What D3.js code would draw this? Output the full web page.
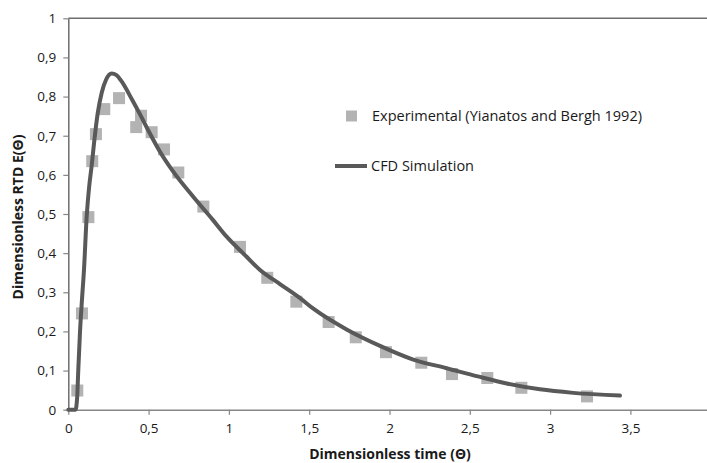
<!DOCTYPE html>
<html>
<head>
<meta charset="utf-8">
<script src="https://cdn.jsdelivr.net/npm/d3@7"></script>
<style>
  html, body { margin: 0; padding: 0; background: #fff; }
  svg { display: block; font-family: "Open Sans", "Noto Sans", sans-serif; }
</style>
</head>
<body>
<svg id="chart" width="707" height="463"></svg>
<script>
// ---- Data ----
const expX = [0.056, 0.085, 0.125, 0.149, 0.172, 0.224, 0.316, 0.423, 0.453, 0.519, 0.596, 0.685, 0.841, 1.069, 1.239, 1.420, 1.621, 1.790, 1.978, 2.198, 2.389, 2.609, 2.821, 3.230];
const expY = [0.049, 0.246, 0.492, 0.635, 0.704, 0.768, 0.796, 0.722, 0.751, 0.709, 0.665, 0.606, 0.519, 0.416, 0.337, 0.276, 0.224, 0.185, 0.147, 0.120, 0.091, 0.081, 0.056, 0.034];

const cfdX = [0, 0.045, 0.055, 0.062, 0.073, 0.085, 0.098, 0.114, 0.130, 0.146, 0.160, 0.183, 0.208, 0.235, 0.270, 0.300, 0.330, 0.400, 0.450, 0.500, 0.571, 0.650, 0.778, 0.900, 0.986, 1.100, 1.194, 1.318, 1.443, 1.526, 1.733, 1.941, 2.148, 2.356, 2.550, 2.730, 2.937, 3.144, 3.435];
const cfdY = [0, 0, 0.030, 0.100, 0.200, 0.280, 0.360, 0.490, 0.570, 0.625, 0.680, 0.757, 0.810, 0.843, 0.859, 0.855, 0.840, 0.790, 0.752, 0.712, 0.659, 0.610, 0.544, 0.485, 0.442, 0.395, 0.357, 0.321, 0.285, 0.258, 0.205, 0.163, 0.128, 0.106, 0.085, 0.067, 0.052, 0.043, 0.036];

const xTicks = [0, 0.5, 1, 1.5, 2, 2.5, 3, 3.5, 4];
const xTickLabels = ["0", "0,5", "1", "1,5", "2", "2,5", "3", "3,5", "4"];
const yTicks = [0, 0.1, 0.2, 0.3, 0.4, 0.5, 0.6, 0.7, 0.8, 0.9, 1];
const yTickLabels = ["0", "0,1", "0,2", "0,3", "0,4", "0,5", "0,6", "0,7", "0,8", "0,9", "1"];

const seriesNames = ["Experimental (Yianatos and Bergh 1992)", "CFD Simulation"];
const xTitle = "Dimensionless time (\u0398)";
const yTitle = "Dimensionless RTD E(\u0398)";

// ---- Layout ----
const svg = d3.select("#chart");
const W = 707, H = 463;
svg.append("rect").attr("width", W).attr("height", H).attr("fill", "#fff");

const x = d3.scaleLinear().domain([0, 4]).range([68.3, 710.7]);
const y = d3.scaleLinear().domain([0, 1]).range([409.7, 18.3]);

const axisColor = "#868686";
const fontSize = 13.5;

// plot area border (top / right)
svg.append("line")
  .attr("x1", x(0)).attr("x2", x(4))
  .attr("y1", y(1)).attr("y2", y(1))
  .attr("stroke", "#6e6e6e").attr("stroke-width", 1.5);
svg.append("line")
  .attr("x1", x(4)).attr("x2", x(4))
  .attr("y1", y(1)).attr("y2", y(0))
  .attr("stroke", "#6e6e6e").attr("stroke-width", 1.5);

// X axis
const xAxis = d3.axisBottom(x)
  .tickValues(xTicks)
  .tickFormat((d, i) => xTickLabels[i])
  .tickSize(5).tickPadding(9).tickSizeOuter(0);
const gx = svg.append("g").attr("transform", `translate(0,${y(0)})`).call(xAxis);
gx.select(".domain").attr("stroke", axisColor).attr("stroke-width", 1.5);
gx.selectAll(".tick line").attr("stroke", axisColor).attr("stroke-width", 1.2);
gx.selectAll(".tick text").attr("fill", "#1a1a1a").style("font-size", fontSize + "px")
  .style("font-family", "'Open Sans', 'Noto Sans', sans-serif");

// Y axis
const yAxis = d3.axisLeft(y)
  .tickValues(yTicks)
  .tickFormat((d, i) => yTickLabels[i])
  .tickSize(5).tickPadding(7).tickSizeOuter(0);
const gy = svg.append("g").attr("transform", `translate(${x(0)},0)`).call(yAxis);
gy.select(".domain").attr("stroke", "#6e6e6e").attr("stroke-width", 1.5);
gy.selectAll(".tick line").attr("stroke", axisColor).attr("stroke-width", 1.2);
gy.selectAll(".tick text").attr("fill", "#1a1a1a").style("font-size", fontSize + "px")
  .style("font-family", "'Open Sans', 'Noto Sans', sans-serif");

// Experimental markers
const expData = expX.map((v, i) => ({ x: v, y: expY[i] }));
const ms = 12;
svg.append("g").selectAll("rect").data(expData).join("rect")
  .attr("x", d => x(d.x) - ms / 2)
  .attr("y", d => y(d.y) - ms / 2)
  .attr("width", ms).attr("height", ms)
  .attr("fill", "#b3b3b3");

// CFD line
const cfdData = cfdX.map((v, i) => ({ x: v, y: cfdY[i] }));
const line = d3.line().x(d => x(d.x)).y(d => y(d.y)).curve(d3.curveMonotoneX);
svg.append("path").datum(cfdData)
  .attr("d", line)
  .attr("fill", "none")
  .attr("stroke", "#595959")
  .attr("stroke-width", 4)
  .attr("stroke-linejoin", "round")
  .attr("stroke-linecap", "round");

// Legend
const leg = svg.append("g");
leg.append("rect").attr("x", 346).attr("y", 110.5).attr("width", 11).attr("height", 11).attr("fill", "#b3b3b3");
leg.append("text").attr("x", 372).attr("y", 121).text(seriesNames[0])
  .attr("fill", "#1a1a1a").style("font-size", "14.5px");
leg.append("line").attr("x1", 335).attr("x2", 367).attr("y1", 166).attr("y2", 166)
  .attr("stroke", "#595959").attr("stroke-width", 4);
leg.append("text").attr("x", 371).attr("y", 171).text(seriesNames[1])
  .attr("fill", "#1a1a1a").style("font-size", "14.5px");

// Axis titles
svg.append("text").attr("x", 390).attr("y", 459).attr("text-anchor", "middle")
  .style("font-weight", "bold").style("font-size", "14px").attr("fill", "#1a1a1a")
  .text(xTitle);
svg.append("text").attr("transform", "translate(23,217) rotate(-90)").attr("text-anchor", "middle")
  .style("font-weight", "bold").style("font-size", "14px").attr("fill", "#1a1a1a")
  .text(yTitle);
</script>
</body>
</html>
